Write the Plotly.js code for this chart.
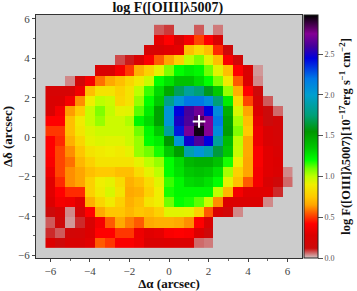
<!DOCTYPE html>
<html><head><meta charset="utf-8">
<script src="https://cdn.plot.ly/plotly-3.0.1.min.js"></script>
<style>html,body{margin:0;padding:0;background:#fff}#c{width:357px;height:291px}</style>
</head><body><div id="c"></div>
<script>
const _ = null;
// log flux per spaxel, listed from the top row of the map to the bottom row
const fluxRows = [
[_,_,_,_,_,_,_,_,_,_,_,.07,.09,_,_,.07,_,.05,_,_,_,_,_,_,_],
[_,_,_,_,_,_,_,_,_,_,_,.32,.42,.25,.38,.52,.42,.25,_,_,_,_,_,_,_],
[_,_,_,_,_,_,_,_,_,_,.22,.25,.3,.32,.72,.82,.72,.48,.14,_,_,_,_,_,_],
[_,_,_,_,_,_,_,.08,.11,.25,.4,.55,.65,.78,1.0,1.08,.93,.72,.4,.17,_,_,_,_,_],
[_,_,_,_,_,.25,.25,.38,.5,.68,.78,.92,1.08,1.2,1.25,1.22,1.1,.93,.72,.42,.25,.03,_,_,_],
[_,_,.04,.17,.38,.58,.66,.72,.8,.88,.98,1.2,1.28,1.38,1.38,1.3,1.2,1.08,.88,.55,.28,.04,_,_,_],
[.22,.22,.22,.36,.72,.85,.85,.78,.85,1.0,1.15,1.3,1.48,1.7,1.85,1.75,1.6,1.35,1.05,.68,.42,.13,_,_,_],
[.25,.27,.38,.62,.9,1.0,.97,.8,.85,1.05,1.2,1.35,1.8,2.05,2.2,2.2,2.1,1.75,1.25,.82,.52,.22,.07,_,_],
[.25,.38,.64,.76,.98,1.08,.99,.92,.93,1.12,1.25,1.5,2.05,2.45,2.6,2.7,2.45,2.1,1.45,.95,.65,.28,.12,.06,_],
[.42,.42,.72,.88,.98,1.05,.97,.97,1.02,1.22,1.3,1.5,2.05,2.5,2.62,2.85,2.75,2.2,1.5,1.03,.72,.32,.12,.18,_],
[.5,.5,.72,.86,.94,.97,.97,.97,.98,1.1,1.22,1.35,1.85,2.4,2.72,2.95,2.75,2.1,1.52,1.08,.75,.35,.25,.2,_],
[.42,.48,.68,.8,.92,.94,.93,.93,.97,1.05,1.2,1.25,1.55,2.05,2.48,2.62,2.45,1.85,1.4,1.0,.66,.35,.25,.22,_],
[.42,.52,.62,.74,.85,.88,.9,.88,.92,1.05,1.1,1.18,1.35,1.52,1.9,2.05,1.9,1.65,1.35,.98,.66,.4,.3,.25,_],
[.4,.52,.58,.7,.78,.85,.85,.85,.85,.92,1.0,1.05,1.2,1.3,1.42,1.45,1.45,1.38,1.18,.9,.65,.4,.3,.28,_],
[.35,.52,.62,.65,.72,.75,.75,.72,.72,.82,.92,1.0,1.2,1.28,1.35,1.38,1.35,1.28,1.03,.78,.65,.38,.3,.27,.04],
[.3,.48,.62,.65,.78,.9,.92,.82,.68,.72,.82,.93,1.15,1.22,1.3,1.32,1.28,1.2,.92,.72,.55,.38,.25,.15,.06],
[.3,.42,.48,.48,.78,.88,.95,.85,.66,.68,.78,.9,1.18,1.22,1.22,1.22,1.22,1.0,.7,.38,.3,.3,.3,.1,_],
[.28,.38,.36,.3,.68,.8,.88,.78,.68,.72,.85,.9,1.1,1.2,1.18,1.12,.98,.62,.28,.27,.27,.27,.04,_,_],
[.12,.22,.04,.2,.42,.66,.74,.74,.7,.74,.72,.78,.93,.93,.92,.78,.55,.25,.17,.04,_,_,_,_,_],
[.07,.15,.03,.1,.25,.38,.55,.66,.6,.55,.66,.68,.68,.66,.62,.42,.25,_,_,_,_,_,_,_,_],
[.1,.07,.18,.2,.28,.42,.42,.5,.5,.35,.3,.32,.4,.42,.4,.28,.14,_,_,_,_,_,_,_,_],
[.28,.15,.25,.25,.3,.55,.5,.4,.4,.36,.26,.26,.28,.27,.27,.06,.05,_,_,_,_,_,_,_,_]
];
const starX = [1.52];
const starY = [0.8];
const cbTicks = [0, 0.5, 1.0, 1.5, 2.0, 2.5];
const cbTickText = ['0.0','0.5','1.0','1.5','2.0','2.5'];
const zTop = 2.98;
const stops = [
 [0,'#d2c6c6'],[.05,'#cf7a7a'],[.12,'#cc0a0a'],[.28,'#dc0000'],[.42,'#ff0000'],[.55,'#ff5a00'],[.65,'#ffa500'],
 [.75,'#ffca00'],[.9,'#efef00'],[1.0,'#bdff00'],[1.1,'#70ff00'],[1.2,'#00ff00'],[1.35,'#00c800'],[1.55,'#009600'],
 [1.75,'#00a078'],[2.0,'#009fcf'],[2.2,'#0078e6'],[2.45,'#0000dc'],[2.6,'#46009a'],[2.75,'#840094'],[2.98,'#000000']
];
const colorscale = stops.map(s => [s[0]/zTop, s[1]]);
const serif = 'Liberation Serif, serif';
const axis = {
  showgrid:false, zeroline:false, showline:true, linecolor:'#333', linewidth:1, mirror:true,
  ticks:'outside', ticklen:3, tickwidth:1, tickcolor:'#444', dtick:2, tick0:0,
  minor:{ticks:'outside', ticklen:2, tickcolor:'#666', dtick:1, tick0:0, showgrid:false},
  tickfont:{family:serif,size:11,color:'#444'}
};
const data = [
 {type:'heatmap', z:fluxRows.slice().reverse(), x0:-6, dx:0.5, y0:-5.35, dy:0.514,
  zmin:0, zmax:zTop, colorscale:colorscale, hoverongaps:false, zsmooth:false,
  colorbar:{thickness:13.5, thicknessmode:'pixels', len:1, lenmode:'fraction', x:1.0075, xanchor:'left', xpad:0, y:0, yanchor:'bottom', ypad:0,
    outlinecolor:'#222', outlinewidth:1, ticks:'outside', ticklen:5, tickwidth:1, tickcolor:'#555',
    tickvals:cbTicks, ticktext:cbTickText, tickfont:{family:serif,size:8,color:'#555'},
    title:{text:'<b>log F([OIII]λ5007)[10<sup>−17</sup>erg s<sup>−1</sup> cm<sup>−2</sup>]</b>', side:'right', font:{family:serif,size:12.5,color:'#111'}}}},
 {type:'scatter', mode:'markers', x:starX, y:starY, hoverinfo:'skip', showlegend:false,
  marker:{symbol:'cross-thin', size:9, line:{color:'#fff', width:2}}}
];
const layout = {
  width:357, height:291, margin:{l:36,r:55,t:15,b:33,autoexpand:false}, paper_bgcolor:'#fff', plot_bgcolor:'#cccccc', showlegend:false,
  title:{text:'<b>log F([OIII]λ5007)</b>', font:{family:serif,size:14,color:'#111'}, x:0.47, xanchor:'center', y:0.975, yanchor:'middle'},
  xaxis:Object.assign({}, axis, {range:[-6.73,6.73], title:{text:'<b>Δα (arcsec)</b>', font:{family:serif,size:13,color:'#111'}, standoff:4}}),
  yaxis:Object.assign({}, axis, {range:[-6.13,6.2], title:{text:'<b>Δδ (arcsec)</b>', font:{family:serif,size:13,color:'#111'}, standoff:3}})
};
Plotly.newPlot('c', data, layout, {displayModeBar:false, staticPlot:true});
</script></body></html>
